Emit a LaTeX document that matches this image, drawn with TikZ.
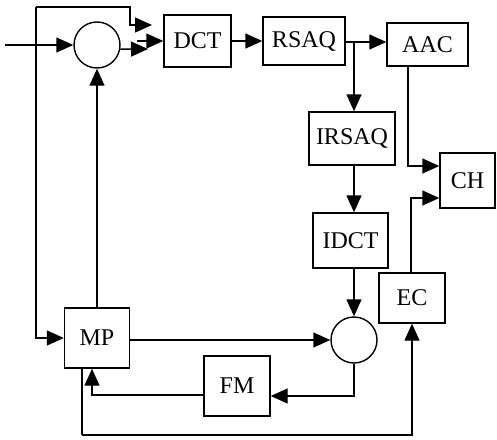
\documentclass[tikz,border=0pt]{standalone}
\usepackage{fontspec}
\setmainfont{Liberation Serif}
\usetikzlibrary{arrows.meta}
\begin{document}
\begin{tikzpicture}[x=1pt,y=-1pt,line width=1.4pt,
  blk/.style={draw,inner sep=0pt,font=\fontsize{24}{28}\selectfont},
  sumc/.style={draw,circle,inner sep=0pt,minimum size=46pt},
  arr/.style={-{Triangle[length=17pt,width=15pt]}}]
\useasboundingbox (0,0) rectangle (497,439);
% blocks
\node[blk,minimum width=67pt,minimum height=52pt] (dct) at (197.5,41) {DCT};
\node[blk,minimum width=82pt,minimum height=48pt] (rsaq) at (304,41) {RSAQ};
\node[blk,minimum width=81pt,minimum height=43pt] (aac) at (427.5,44.5) {AAC};
\node[blk,minimum width=86pt,minimum height=53pt] (irsaq) at (352,138.5) {IRSAQ};
\node[blk,minimum width=75pt,minimum height=55pt] (idct) at (350.5,240.5) {IDCT};
\node[blk,minimum width=55pt,minimum height=55pt] (ch) at (467.5,180.5) {CH};
\node[blk,minimum width=66pt,minimum height=50pt] (ec) at (412,298) {EC};
\node[blk,minimum width=65pt,minimum height=60pt] (mp) at (97,338) {MP};
\node[blk,minimum width=66pt,minimum height=60pt] (fm) at (237,386) {FM};
\node[sumc] (c1) at (97,45) {};
\node[sumc] (c2) at (354,340) {};
% helper coordinates
\coordinate (in) at (5,45);
\coordinate (tl) at (36,7);
\coordinate (tr) at (130,7);
\coordinate (tt) at (152,25);
\coordinate (mm) at (137,41);
\coordinate (bb) at (148,49);
\coordinate (br) at (354,42);
\coordinate (bl) at (82,435);
% connectors
\draw[arr] (in) -- (c1.west);
\draw[arr] (tl) -- (tr) |- (tt);
\draw[arr] (tl) |- (mp.west);
\draw[arr] (mm) -- (dct.west);
\draw[arr] (c1.-10) -- (bb);
\draw[arr] (mp.north) -- (c1.south);
\draw[arr] (dct.east) -- (rsaq.west);
\draw[arr] (rsaq.east |- br) -- (aac.west |- br);
\draw[arr] (br) -- (br |- irsaq.north);
\draw[arr] (c2 |- irsaq.south) -- (c2 |- idct.north);
\draw[arr] (c2 |- idct.south) -- (c2.north);
\draw[arr] ([xshift=-19.5pt]aac.south) |- ([yshift=14.5pt]ch.west);
\draw[arr] ([xshift=-1pt]ec.north) |- ([yshift=-17.5pt]ch.west);
\draw[arr] (mp.east |- c2) -- (c2.west);
\draw[arr] (c2.south) |- ([yshift=-10pt]fm.east);
\draw[arr] ([yshift=-9pt]fm.west) -| ([xshift=-5pt]mp.south);
\draw ([xshift=-15pt]mp.south) -- (bl);
\draw[arr] (bl) -| (ec.south);
\end{tikzpicture}
\end{document}
